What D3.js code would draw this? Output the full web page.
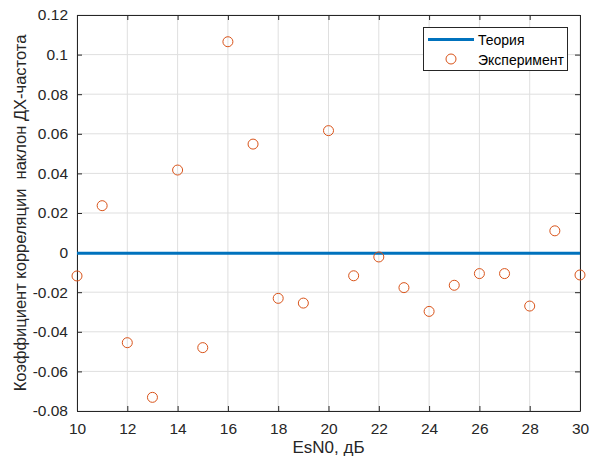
<!DOCTYPE html>
<html><head><meta charset="utf-8">
<script src="https://cdn.jsdelivr.net/npm/d3@7"></script>
<style>body{margin:0;background:#fff}svg{display:block}text{font-family:"Liberation Sans",Arial,sans-serif}</style>
</head><body>
<svg id="c" width="603" height="459"></svg>
<script>
const esn0 = [10,11,12,13,14,15,16,17,18,19,20,21,22,23,24,25,26,27,28,29,30];
const experiment = [-0.0118,0.0237,-0.0455,-0.0731,0.0417,-0.048,0.1065,0.0548,-0.0231,-0.0255,0.0616,-0.0117,-0.0022,-0.0177,-0.0297,-0.0165,-0.0106,-0.0106,-0.027,0.011,-0.0113];
const theoryX = [10,30];
const theoryY = [0,0];
const xTicks = [10,12,14,16,18,20,22,24,26,28,30];
const yTicks = [-0.08,-0.06,-0.04,-0.02,0,0.02,0.04,0.06,0.08,0.1,0.12];
const legendLabels = ["Теория","Эксперимент"];

const svg = d3.select("#c");
const L=77,R=580,T=15,B=411;
const x = d3.scaleLinear().domain([10,30]).range([L,R]);
const y = d3.scaleLinear().domain([-0.08,0.12]).range([B,T]);
const blue="#0072BD", orange="#D95319";

// grid
svg.append("g").selectAll("line").data(xTicks).join("line")
  .attr("x1",d=>x(d)).attr("x2",d=>x(d)).attr("y1",T).attr("y2",B)
  .attr("stroke","#dfdfdf").attr("stroke-width",1);
svg.append("g").selectAll("line").data(yTicks).join("line")
  .attr("x1",L).attr("x2",R).attr("y1",d=>y(d)).attr("y2",d=>y(d))
  .attr("stroke","#dfdfdf").attr("stroke-width",1);

// axes
const fmt = d=> d===0?"0":String(+d.toFixed(2));
const axB = svg.append("g").attr("transform",`translate(0,${B})`)
  .call(d3.axisBottom(x).tickValues(xTicks).tickSizeInner(-5).tickSizeOuter(0).tickPadding(12).tickFormat(d=>d));
const axT = svg.append("g").attr("transform",`translate(0,${T})`)
  .call(d3.axisTop(x).tickValues(xTicks).tickSizeInner(-5).tickSizeOuter(0).tickFormat(""));
const axL = svg.append("g").attr("transform",`translate(${L},0)`)
  .call(d3.axisLeft(y).tickValues(yTicks).tickSizeInner(-5).tickSizeOuter(0).tickPadding(9).tickFormat(fmt));
const axR = svg.append("g").attr("transform",`translate(${R},0)`)
  .call(d3.axisRight(y).tickValues(yTicks).tickSizeInner(-5).tickSizeOuter(0).tickFormat(""));
[axB,axT,axL,axR].forEach(a=>{
  a.selectAll("path,line").attr("stroke","#262626");
  a.selectAll("text").attr("fill","#262626").style("font-size","15.5px");
});

// theory line
svg.append("path").datum(theoryX.map((d,i)=>[d,theoryY[i]]))
  .attr("d",d3.line().x(d=>x(d[0])).y(d=>y(d[1])+0.7))
  .attr("stroke",blue).attr("stroke-width",3).attr("fill","none");

// experiment points
svg.append("g").selectAll("circle").data(esn0).join("circle")
  .attr("cx",d=>x(d)).attr("cy",(d,i)=>y(experiment[i])).attr("r",5)
  .attr("fill","none").attr("stroke",orange).attr("stroke-width",1);

// labels
svg.append("text").attr("x",(L+R)/2).attr("y",453).attr("text-anchor","middle")
  .style("font-size","17px").attr("fill","#262626").text("EsN0, дБ");
svg.append("text").attr("transform",`translate(26,${(T+B)/2}) rotate(-90)`).attr("text-anchor","middle")
  .style("font-size","16.5px").style("white-space","pre").attr("fill","#262626").text("Коэффициент корреляции  наклон ДХ-частота");

// legend
const lg = svg.append("g");
lg.append("rect").attr("x",423.5).attr("y",27.5).attr("width",144).attr("height",43)
  .attr("fill","#fff").attr("stroke","#262626").attr("stroke-width",1);
lg.append("line").attr("x1",428).attr("x2",474).attr("y1",39.5).attr("y2",39.5)
  .attr("stroke",blue).attr("stroke-width",3);
lg.append("circle").attr("cx",451).attr("cy",59).attr("r",5).attr("fill","none").attr("stroke",orange);
lg.selectAll("text.l").data(legendLabels).join("text").attr("class","l")
  .attr("x",478).attr("y",(d,i)=>44.5+i*20).style("font-size","14px").attr("fill","#000").text(d=>d);
</script>
</body></html>
